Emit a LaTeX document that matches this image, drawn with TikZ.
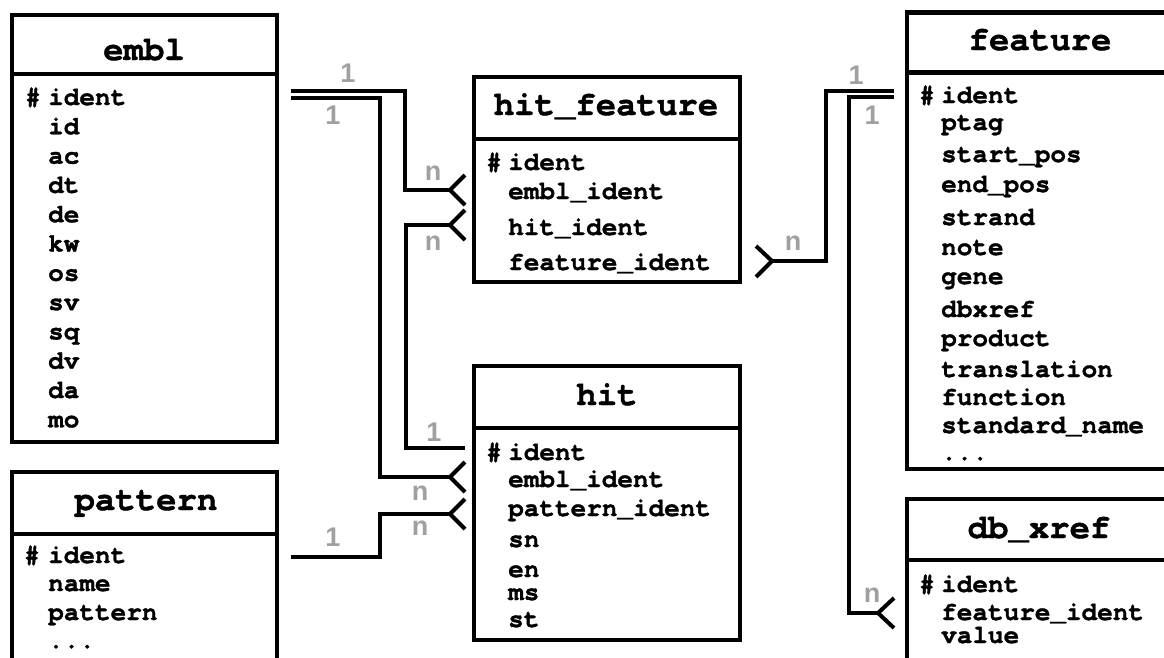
\documentclass[tikz,border=0pt]{standalone}
\usepackage{fontspec}
\setmonofont[BoldFeatures={FakeBold=1.2}]{TeX Gyre Cursor}
\newfontfamily\lblfont{Liberation Sans}
\definecolor{lblgray}{RGB}{160,160,160}
\tikzset{
  tbl/.style={draw=black, line width=4.5pt, inner sep=0pt, outer sep=0pt, anchor=north west},
  divider/.style={line width=4.5pt},
  ttl/.style={font=\fontsize{34}{34}\selectfont\ttfamily\bfseries, anchor=base, inner sep=0pt},
  fld/.style={font=\fontsize{26}{24}\selectfont\ttfamily\bfseries, anchor=base west, inner sep=0pt},
  card/.style={font=\fontsize{27}{27}\selectfont\lblfont\bfseries, text=lblgray, inner sep=0pt},
  conn/.style={line width=4pt},
}
\newcommand\fieldrow[4]{\node[fld] (#1) at (#2,#3) {#4};}
\begin{document}
\begin{tikzpicture}[x=1pt,y=-1pt]
\useasboundingbox (0,0) rectangle (1164,657);
\clip (0,0) rectangle (1164,657);

% ---------- tables ----------
\node[tbl, minimum width=265pt, minimum height=427pt] (embl) at (12,15) {};
\draw[divider] (12,74) -- (277,74);
\node[tbl, minimum width=265pt, minimum height=220pt] (pattern) at (12,472) {};
\draw[divider] (12,534) -- (277,534);
\node[tbl, minimum width=266pt, minimum height=205pt] (hitfeature) at (474,77) {};
\draw[divider] (474,139) -- (740,139);
\node[tbl, minimum width=266pt, minimum height=274pt] (hit) at (474,366) {};
\draw[divider] (474,428) -- (740,428);
\node[tbl, minimum width=266pt, minimum height=456.5pt] (feature) at (907,12.5) {};
\draw[divider] (907,72.5) -- (1173,72.5);
\node[tbl, minimum width=266pt, minimum height=200pt] (dbxref) at (907,499) {};
\draw[divider] (907,560) -- (1173,560);

% ---------- titles ----------
\node[ttl] (t-embl) at (144,60) {embl};
\node[ttl] (t-pattern) at (146,510) {pattern};
\node[ttl] (t-hitfeature) at (606,115) {hit\_feature};
\node[ttl] (t-hit) at (607,405) {hit};
\node[ttl] (t-feature) at (1040,50) {feature};
\node[ttl] (t-dbxref) at (1039,538) {db\_xref};

% ---------- embl fields ----------
\fieldrow{e-h}{25}{105}{\#}
\fieldrow{e1}{48}{105}{ident}
\fieldrow{e2}{48}{134.3}{id}
\fieldrow{e3}{48}{163.6}{ac}
\fieldrow{e4}{48}{192.9}{dt}
\fieldrow{e5}{48}{222.2}{de}
\fieldrow{e6}{48}{251.5}{kw}
\fieldrow{e7}{48}{280.8}{os}
\fieldrow{e8}{48}{310.1}{sv}
\fieldrow{e9}{48}{339.4}{sq}
\fieldrow{e10}{48}{368.7}{dv}
\fieldrow{e11}{48}{398}{da}
\fieldrow{e12}{48}{427.3}{mo}

% ---------- pattern fields ----------
\fieldrow{p-h}{24}{563}{\#}
\fieldrow{p1}{48}{563}{ident}
\fieldrow{p2}{48}{591}{name}
\fieldrow{p3}{48}{620}{pattern}
\fieldrow{p4}{48}{648}{...}

% ---------- hit_feature fields ----------
\fieldrow{hf-h}{486}{170}{\#}
\fieldrow{hf1}{508}{170}{ident}
\fieldrow{hf2}{508}{199}{embl\_ident}
\fieldrow{hf3}{508}{235}{hit\_ident}
\fieldrow{hf4}{508}{270}{feature\_ident}

% ---------- hit fields ----------
\fieldrow{h-h}{486}{460}{\#}
\fieldrow{h1}{508}{460}{ident}
\fieldrow{h2}{508}{487}{embl\_ident}
\fieldrow{h3}{508}{516}{pattern\_ident}
\fieldrow{h4}{508}{547}{sn}
\fieldrow{h5}{508}{577}{en}
\fieldrow{h6}{508}{600}{ms}
\fieldrow{h7}{508}{627}{st}

% ---------- feature fields ----------
\fieldrow{f-h}{919}{103}{\#}
\fieldrow{f1}{941}{103}{ident}
\fieldrow{f2}{941}{130}{ptag}
\fieldrow{f3}{941}{162}{start\_pos}
\fieldrow{f4}{941}{192}{end\_pos}
\fieldrow{f5}{941}{225}{strand}
\fieldrow{f6}{941}{255}{note}
\fieldrow{f7}{941}{284}{gene}
\fieldrow{f8}{941}{317}{dbxref}
\fieldrow{f9}{941}{346}{product}
\fieldrow{f10}{941}{377}{translation}
\fieldrow{f11}{941}{405}{function}
\fieldrow{f12}{941}{433}{standard\_name}
\fieldrow{f13}{941}{460}{...}

% ---------- db_xref fields ----------
\fieldrow{d-h}{919}{592}{\#}
\fieldrow{d1}{941}{592}{ident}
\fieldrow{d2}{941}{620}{feature\_ident}
\fieldrow{d3}{941}{643}{value}

% ---------- connector end points ----------
\coordinate (emblA) at (291,91);
\coordinate (emblB) at (291,98);
\coordinate (patD) at (291,557);
\coordinate (hfA) at (450,190);
\coordinate (hfC) at (450,225);
\coordinate (hfE) at (772,261);
\coordinate (hitB) at (450,477);
\coordinate (hitC) at (465,448);
\coordinate (hitD) at (450,514);
\coordinate (featE) at (894,91);
\coordinate (featF) at (894,97);
\coordinate (dbF) at (878,613);

% ---------- connectors ----------
% embl.ident -> hit_feature.embl_ident
\draw[conn] (emblA) -- ++(114,0) |- (hfA);
\draw[conn] ([shift={(15,-15)}]hfA) -- (hfA) -- ([shift={(15,15)}]hfA);
% embl.ident -> hit.embl_ident
\draw[conn] (emblB) -- ++(89,0) |- (hitB);
\draw[conn] ([shift={(15,-15)}]hitB) -- (hitB) -- ([shift={(15,15)}]hitB);
% hit.ident -> hit_feature.hit_ident
\draw[conn] (hitC) -- ++(-59,0) |- (hfC);
\draw[conn] ([shift={(15,-15)}]hfC) -- (hfC) -- ([shift={(15,15)}]hfC);
% pattern.ident -> hit.pattern_ident
\draw[conn] (patD) -- ++(89,0) |- (hitD);
\draw[conn] ([shift={(15,-15)}]hitD) -- (hitD) -- ([shift={(15,15)}]hitD);
% feature.ident -> hit_feature.feature_ident
\draw[conn] (hfE) -- ++(54,0) |- (featE);
\draw[conn] ([shift={(-16,-15)}]hfE) -- (hfE) -- ([shift={(-16,16)}]hfE);
% feature.ident -> db_xref.feature_ident
\draw[conn] (featF) -- ++(-45,0) |- (dbF);
\draw[conn] ([shift={(16,-15)}]dbF) -- (dbF) -- ([shift={(16,15)}]dbF);

% ---------- cardinalities ----------
\node[card] (cA1) at (348,73) {1};
\node[card] (cB1) at (333,115) {1};
\node[card] (cAn) at (433,173) {n};
\node[card] (cCn) at (433,243) {n};
\node[card] (cC1) at (434,432) {1};
\node[card] (cBn) at (420,493) {n};
\node[card] (cDn) at (420,528) {n};
\node[card] (cD1) at (333,537) {1};
\node[card] (cEn) at (793,243) {n};
\node[card] (cE1) at (856,75) {1};
\node[card] (cF1) at (872,115) {1};
\node[card] (cFn) at (872,595) {n};
\end{tikzpicture}
\end{document}
